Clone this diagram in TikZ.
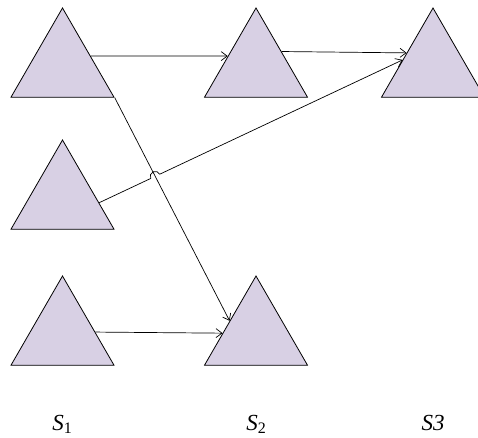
\documentclass[tikz,border=0pt]{standalone}
\usepackage{fontspec}
\setmainfont{Liberation Serif}
\usetikzlibrary{shapes.geometric,arrows.meta,calc,intersections}
\definecolor{lav}{HTML}{D8D0E4}
\tikzset{
  tri/.style={regular polygon, regular polygon sides=3, minimum size=119pt,
    inner sep=0pt, draw=black, fill=lav, line width=0.8pt},
  arr/.style={-{Straight Barb[length=6pt,width=9pt]}, line width=0.7pt},
  lbl/.style={font=\fontsize{23}{27}\selectfont\itshape, anchor=base}
}
\newcommand{\mysub}[1]{\raisebox{-0.35ex}{\fontsize{16}{19}\selectfont\upshape #1}}
\begin{document}
\begin{tikzpicture}[x=1pt,y=1pt]
\useasboundingbox (0,0) rectangle (478,-437);
\node[tri] (tl) at (62.5,-67.5) {};
\node[tri] (ml) at (62.5,-199.5) {};
\node[tri] (bl) at (62.5,-335.5) {};
\node[tri] (tm) at (256,-67.5) {};
\node[tri] (bm) at (256,-335.5) {};
\node[tri] (tr) at (433,-67.5) {};
\draw[arr] (tl.22) -- (tm.158);
\draw[arr] (tm.32) -- (tr.151);
\draw[arr] (bl.6) -- (bm.176);
\draw[arr, name path=pfour] (tl.corner 3) -- (bm.151);
\path[name path=pthree] (ml.-5.6) -- (tr.166);
\path[name intersections={of=pthree and pfour, by=X}];
\draw[arr] let \p1=($(tr.166)-(ml.-5.6)$), \n1={atan2(\y1,\x1)} in
  (ml.-5.6) -- ($(X)!5pt!(ml.-5.6)$)
  arc[start angle=\n1+180, end angle=\n1, radius=5pt] -- (tr.166);
\node[lbl] (s1) at (62,-430) {S\mysub{1}};
\node[lbl] (s2) at (256,-430) {S\mysub{2}};
\node[lbl] (s3) at (433,-430) {S3};
\end{tikzpicture}
\end{document}
